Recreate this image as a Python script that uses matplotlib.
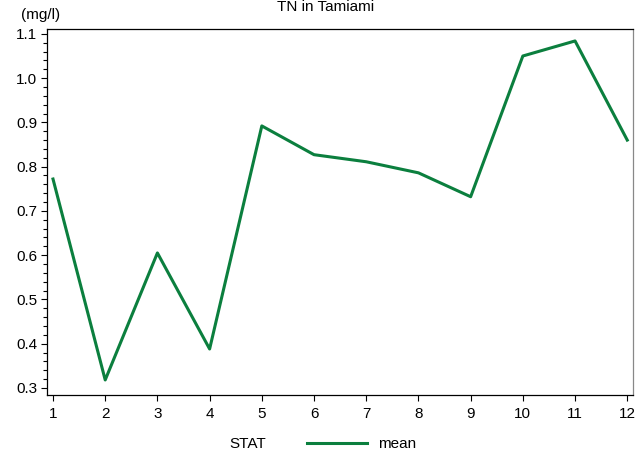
import numpy as np
import matplotlib.pyplot as plt
from matplotlib.ticker import MultipleLocator
from matplotlib.lines import Line2D

months = [1, 2, 3, 4, 5, 6, 7, 8, 9, 10, 11, 12]
tn_mean = [0.772, 0.318, 0.605, 0.388, 0.892, 0.827, 0.811, 0.786, 0.732, 1.050, 1.084, 0.860]

plt.rcParams['font.family'] = ['Liberation Sans', 'DejaVu Sans']

fig = plt.figure(figsize=(6.38, 4.57), dpi=100)
ax = fig.add_axes([47 / 638, 1 - 395 / 457, (633 - 47) / 638, (395 - 29) / 457])

green = "#0b7f3e"
ax.plot(months, tn_mean, color=green, linewidth=2.2)

ax.set_xlim(0.885, 12.11)
ax.set_ylim(0.284, 1.111)
ax.set_xticks(months)
ax.yaxis.set_major_locator(MultipleLocator(0.1))
ax.yaxis.set_minor_locator(MultipleLocator(0.02))
ax.yaxis.set_major_formatter(plt.FuncFormatter(lambda v, p: f"{v:.1f}"))
ax.tick_params(axis="both", direction="out", labelsize=11, length=4, width=0.8)
ax.tick_params(axis="y", which="minor", length=3, width=0.8)
ax.tick_params(axis="x", pad=5)
ax.tick_params(axis="y", pad=3)
for s in ax.spines.values():
    s.set_linewidth(0.9)
ax.spines["right"].set_color("#888888")

fig.text(326 / 638, 1 - 7 / 457, "TN in Tamiami", ha="center", va="center", fontsize=11)
fig.text(21 / 638, 1 - 15 / 457, "(mg/l)", ha="left", va="center", fontsize=11)

# legend row
fig.text(229 / 638, 1 - 444 / 457, "STAT", ha="left", va="center", fontsize=11)
fig.add_artist(Line2D([307 / 638, 367 / 638], [1 - 443 / 457, 1 - 443 / 457],
                      color=green, linewidth=2.2, transform=fig.transFigure))
fig.text(378 / 638, 1 - 444 / 457, "mean", ha="left", va="center", fontsize=11)

fig.savefig("out.png", dpi=100)
